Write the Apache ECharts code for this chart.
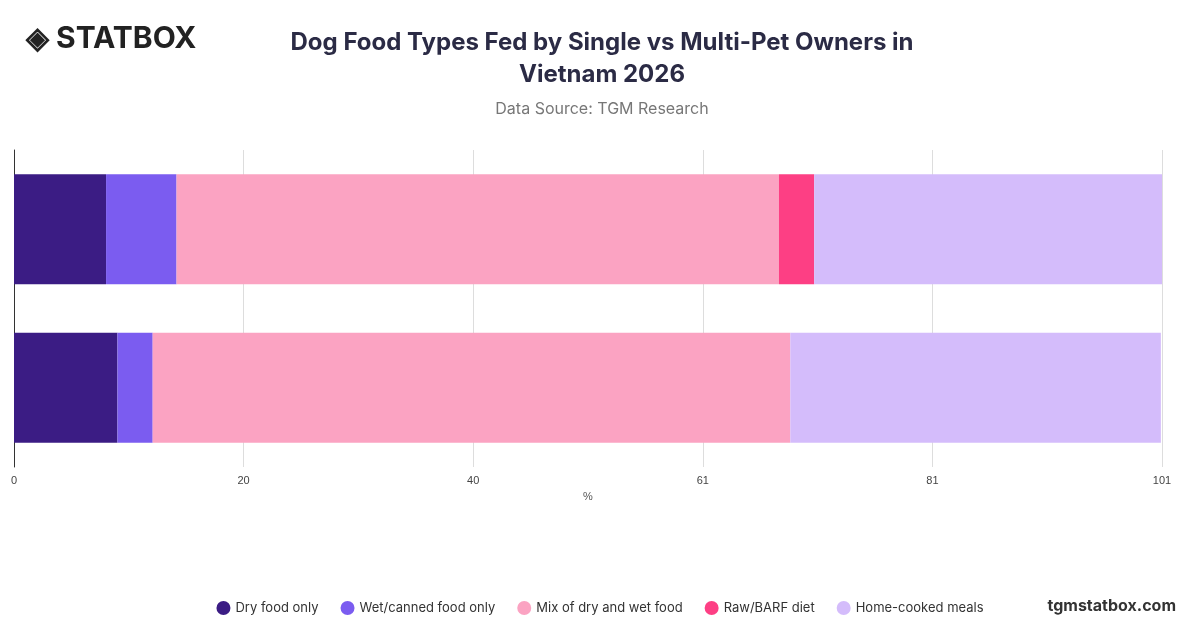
<!DOCTYPE html>
<html><head><meta charset="utf-8">
<script src="https://cdn.jsdelivr.net/npm/echarts@6/dist/echarts.min.js"></script>
<style>html,body{margin:0;padding:0;background:#fff}#chart{width:1200px;height:628px}</style>
</head><body><div id="chart"></div>
<script>
// owner groups, bottom to top
const groups = ['Multi-pet owners', 'Single pet owners'];
const seriesNames = ['Dry food only', 'Wet/canned food only', 'Mix of dry and wet food', 'Raw/BARF diet', 'Home-cooked meals'];
const colors = ['#3b1c84', '#7b5cf0', '#fba3c2', '#fd3f84', '#d4bcfb'];
const dryFood = [9.1, 8.1];
const wetFood = [3.1, 6.2];
const mixFood = [56.1, 53.0];
const rawFood = [0, 3.1];
const homeCooked = [32.6, 30.6];
const values = [dryFood, wetFood, mixFood, rawFood, homeCooked];

let chart = echarts.init(document.getElementById('chart'));
chart.setOption({
    animation: false,
    title: {
        text: 'Dog Food Types Fed by Single vs Multi-Pet Owners in\nVietnam 2026',
        subtext: 'Data Source: TGM Research',
        left: 597, top: 22, textAlign: 'center',
        textStyle: { fontFamily: 'Inter', fontSize: 24, fontWeight: 'bold', color: '#2b2b45', lineHeight: 32 },
        subtextStyle: { fontFamily: 'Inter', fontSize: 16, color: '#777' },
        itemGap: 10
    },
    graphic: [
        { type: 'text', left: 26, top: 24, style: { text: '◈ STATBOX', font: 'bold 30px Inter', fill: '#222' } },
        { type: 'text', right: 24, bottom: 14, style: { text: 'tgmstatbox.com', font: 'bold 16px Inter', fill: '#333' } }
    ],
    legend: {
        bottom: 8, left: 'center', icon: 'circle', itemWidth: 14, itemHeight: 14, itemGap: 22,
        textStyle: { fontFamily: 'Inter', fontSize: 13, color: '#333' },
        data: seriesNames
    },
    grid: { left: 14, right: 38, top: 150, bottom: 161 },
    xAxis: {
        type: 'value', min: 0, max: 101, interval: 20.2,
        name: '%', nameLocation: 'middle', nameGap: 24,
        nameTextStyle: { fontSize: 11, color: '#555' },
        axisLabel: { formatter: (v) => Math.round(v), fontSize: 11, color: '#444' },
        splitLine: { lineStyle: { color: '#ddd' } }
    },
    yAxis: {
        type: 'category', data: groups,
        axisLabel: { show: false }, axisTick: { show: false },
        axisLine: { lineStyle: { color: '#333' } }
    },
    series: seriesNames.map((name, i) => ({
        name: name, type: 'bar', stack: 'all', barWidth: 110,
        itemStyle: { color: colors[i] },
        data: values[i]
    }))
});
</script></body></html>
